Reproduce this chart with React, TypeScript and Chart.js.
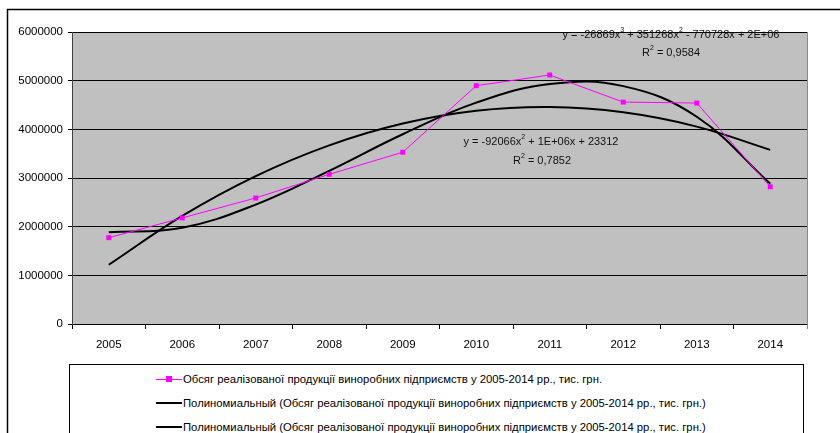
import React, { useEffect, useRef } from "react";
import { Chart, registerables } from "chart.js";

Chart.register(...registerables);

const years = ["2005", "2006", "2007", "2008", "2009", "2010", "2011", "2012", "2013", "2014"];
const salesValues = [1773000, 2180000, 2590000, 3076000, 3530000, 4897000, 5116000, 4560000, 4540000, 2820000];
const cubicTrendValues = [1884000, 1979000, 2454000, 3148000, 3899000, 4548000, 4931000, 4888000, 4259000, 2880000];
const quadTrendValues = [1217000, 2220000, 3038000, 3670000, 4118000, 4380000, 4457000, 4349000, 4056000, 3578000];
const yMin = 0;
const yMax = 6000000;
const yStep = 1000000;

const seriesLabel = "Обсяг реалізованої продукції виноробних підприємств у 2005-2014 рр., тис. грн.";
const trendLabel = "Полиномиальный (" + seriesLabel + ")";
const cubicEquation: [string, boolean][] = [["y = -26869x", false], ["3", true], [" + 351268x", false], ["2", true], [" - 770728x + 2E+06", false]];
const cubicR2: [string, boolean][] = [["R", false], ["2", true], [" = 0,9584", false]];
const quadEquation: [string, boolean][] = [["y = -92066x", false], ["2", true], [" + 1E+06x + 23312", false]];
const quadR2: [string, boolean][] = [["R", false], ["2", true], [" = 0,7852", false]];

const FONT = "'Liberation Sans', Arial, sans-serif";

function drawRich(ctx: CanvasRenderingContext2D, parts: [string, boolean][], cx: number, cy: number) {
  const big = "11px " + FONT;
  const small = "7px " + FONT;
  let total = 0;
  for (const [t, sup] of parts) {
    ctx.font = sup ? small : big;
    total += ctx.measureText(t).width;
  }
  let x = cx - total / 2;
  ctx.textBaseline = "middle";
  ctx.textAlign = "left";
  ctx.fillStyle = "#111";
  for (const [t, sup] of parts) {
    ctx.font = sup ? small : big;
    ctx.fillText(t, x, sup ? cy - 5 : cy);
    x += ctx.measureText(t).width;
  }
}

const decorPlugin = {
  id: "decor",
  beforeDraw(chart: any) {
    const ctx = chart.ctx as CanvasRenderingContext2D;
    const a = chart.chartArea;
    ctx.save();
    ctx.fillStyle = "#ffffff";
    ctx.fillRect(0, 0, chart.width, chart.height);
    ctx.strokeStyle = "#000";
    ctx.lineWidth = 1.5;
    ctx.beginPath();
    ctx.moveTo(7.5, chart.height + 5);
    ctx.lineTo(7.5, 9.5);
    ctx.lineTo(chart.width + 5, 9.5);
    ctx.stroke();
    ctx.fillStyle = "#c0c0c0";
    ctx.fillRect(a.left, a.top, a.right - a.left, a.bottom - a.top);
    ctx.restore();
  },
  afterDraw(chart: any) {
    const ctx = chart.ctx as CanvasRenderingContext2D;
    const a = chart.chartArea;
    ctx.save();
    ctx.strokeStyle = "#8a8a8a";
    ctx.lineWidth = 1;
    ctx.beginPath();
    ctx.moveTo(a.right + 0.5, a.top);
    ctx.lineTo(a.right + 0.5, a.bottom + 5);
    ctx.stroke();
    drawRich(ctx, cubicEquation, 671, 35);
    drawRich(ctx, cubicR2, 671, 53);
    drawRich(ctx, quadEquation, 541, 142);
    drawRich(ctx, quadR2, 542, 161);
    ctx.restore();
  },
};

const legendItems = [
  { label: seriesLabel, color: "#ff00ff", width: 1, marker: true },
  { label: trendLabel, color: "#000000", width: 2, marker: false },
  { label: trendLabel, color: "#000000", width: 2, marker: false },
];

export default function App() {
  const ref = useRef<HTMLCanvasElement | null>(null);

  useEffect(() => {
    document.body.style.margin = "0";
    if (!ref.current) return;
    const chart = new Chart(ref.current, {
      type: "line",
      data: {
        labels: years,
        datasets: [
          {
            label: seriesLabel,
            data: salesValues,
            borderColor: "#ff00ff",
            backgroundColor: "#ff00ff",
            borderWidth: 1,
            pointStyle: "rect",
            pointRadius: 3.5,
            pointBorderWidth: 0,
            tension: 0,
          },
          {
            label: trendLabel,
            data: cubicTrendValues,
            borderColor: "#000000",
            borderWidth: 2,
            pointRadius: 0,
            tension: 0.4,
          },
          {
            label: trendLabel,
            data: quadTrendValues,
            borderColor: "#000000",
            borderWidth: 2,
            pointRadius: 0,
            tension: 0.4,
          },
        ],
      },
      options: {
        animation: false,
        responsive: false,
        devicePixelRatio: 1,
        layout: { padding: { left: 0, right: 33, top: 32, bottom: 79 } },
        plugins: { legend: { display: false }, tooltip: { enabled: false } },
        scales: {
          x: {
            type: "category",
            offset: true,
            grid: { offset: true, drawOnChartArea: false, color: "#000", tickLength: 5, lineWidth: 1 },
            border: { color: "#000", width: 1 },
            ticks: { color: "#000", font: { family: FONT, size: 11.5 }, padding: 9, maxRotation: 0 },
            afterFit: (s: any) => { s.height = 30; },
          },
          y: {
            min: yMin,
            max: yMax,
            grid: { color: "#000", tickLength: 4, lineWidth: 1 },
            border: { color: "#404040", width: 1 },
            ticks: {
              stepSize: yStep,
              color: "#000",
              font: { family: FONT, size: 11.5 },
              padding: 5,
              callback: (v: any) => String(v),
            },
            afterFit: (s: any) => { s.width = 72; },
          },
        },
      },
      plugins: [decorPlugin],
    } as any);
    return () => chart.destroy();
  }, []);

  return (
    <div style={{ position: "relative", width: 840, height: 433, overflow: "hidden", fontFamily: FONT }}>
      <canvas ref={ref} width={840} height={433} style={{ position: "absolute", left: 0, top: 0, width: 840, height: 433 }} />
      <div style={{ position: "absolute", left: 69, top: 364, width: 735, height: 100, border: "1px solid #000", background: "#fff", boxSizing: "border-box" }}>
        {legendItems.map((it, i) => (
          <div key={i} style={{ position: "absolute", left: 86, top: 5 + i * 24.2, height: 18, display: "flex", alignItems: "center", whiteSpace: "nowrap" }}>
            <div style={{ position: "relative", width: 26, height: 18, marginRight: 1 }}>
              <div style={{ position: "absolute", left: 0, top: 9 - it.width / 2, width: 26, height: it.width, background: it.color }} />
              {it.marker && <div style={{ position: "absolute", left: 10, top: 6, width: 6, height: 6, background: it.color }} />}
            </div>
            <span style={{ fontSize: 11.3, color: "#000" }}>{it.label}</span>
          </div>
        ))}
      </div>
    </div>
  );
}
